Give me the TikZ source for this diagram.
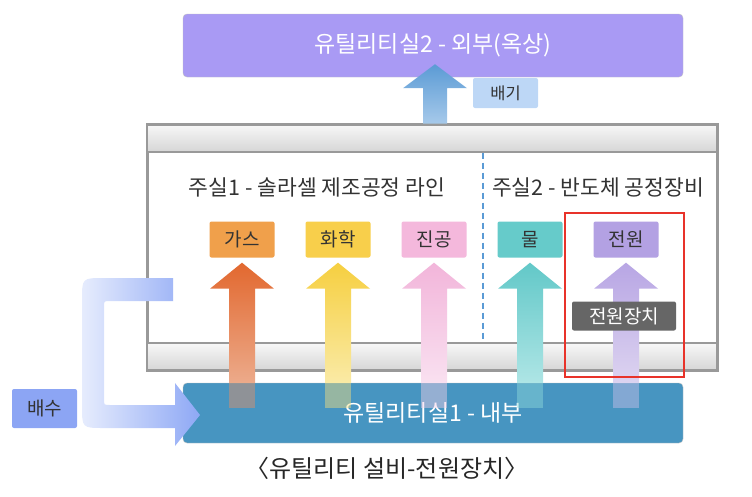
\documentclass[tikz,border=0pt]{standalone}
\usepackage{fontspec}
\setmainfont{Noto Sans CJK KR}
\usetikzlibrary{calc,positioning}
\definecolor{cUtilTwo}{HTML}{A99AF4}
\definecolor{cUtilOne}{HTML}{4795C1}
\definecolor{cExhTag}{HTML}{BDD7F6}
\definecolor{cExhTop}{HTML}{5B9BD5}
\definecolor{cExhBot}{HTML}{A6C9EA}
\definecolor{cDrainTag}{HTML}{8CA5F4}
\definecolor{cDrainL}{HTML}{E6ECFD}
\definecolor{cDrainR}{HTML}{8EA8F5}
\definecolor{cGas}{HTML}{F0A04B}
\definecolor{cGasTop}{HTML}{E2682F}
\definecolor{cGasBot}{HTML}{ECAA8A}
\definecolor{cChem}{HTML}{F8CF4B}
\definecolor{cChemTop}{HTML}{F6CF40}
\definecolor{cChemBot}{HTML}{FAEAA5}
\definecolor{cVac}{HTML}{F4B8DC}
\definecolor{cVacTop}{HTML}{F2B5DA}
\definecolor{cVacBot}{HTML}{F9E0F0}
\definecolor{cWater}{HTML}{66CBCA}
\definecolor{cWaterTop}{HTML}{62C8C8}
\definecolor{cWaterBot}{HTML}{AEE5E5}
\definecolor{cPow}{HTML}{B3A1E3}
\definecolor{cPowTop}{HTML}{B8A6E4}
\definecolor{cPowBot}{HTML}{DCD3F0}
\definecolor{cFrame}{HTML}{999999}
\definecolor{cDiv}{HTML}{5B9BD5}
\definecolor{cMark}{HTML}{E8332A}

\begin{document}
\begin{tikzpicture}[x=1pt, y=-1pt,
    util/.style={rectangle, rounded corners=4pt, draw=black!25, fill=#1, minimum width=500pt, inner sep=0pt, text=white, font=\fontsize{23}{25}\selectfont},
    tag/.style={rectangle, rounded corners=2pt, fill=#1, minimum width=65pt, minimum height=36pt, inner sep=0pt, text=black!80, font=\fontsize{19}{21}\selectfont},
    heading/.style={font=\fontsize{21.5}{23}\selectfont, text=black!80},
    bar/.style={rectangle, draw=cFrame, line width=2pt, top color=black!3, bottom color=black!16, minimum width=570pt, minimum height=27pt, inner sep=0pt},
    divider/.style={cDiv, line width=2.5pt, dash pattern=on 6pt off 4pt},
]
\useasboundingbox (0,0) rectangle (752,496);

\def\sep{96}

% main room frame
\node[rectangle, draw=cFrame, line width=3pt, fill=white, minimum width=570pt, minimum height=246pt, inner sep=0pt] (room) at (432,247) {};
\node[bar] (topbar) at (432,138) {};
\node[bar] (botbar) at (432,356.5) {};
\coordinate (div) at (483,0);
\draw[divider] (topbar.south -| div) -- (botbar.north -| div);

\node[heading] (line1) at (317,187) {주실1 - 솔라셀 제조공정 라인};
\node[heading] (line2) at (598,187) {주실2 - 반도체 공정장비};

% utilities
\node[tag=cGas] (gas) at (242,239.5) {가스};
\node[tag=cChem] (chem) at (242+\sep,239.5) {화학};
\node[tag=cVac] (vac) at (242+2*\sep,239.5) {진공};
\node[tag=cWater] (water) at (242+3*\sep,239.5) {물};
\node[tag=cPow] (pow) at (242+4*\sep,239.5) {전원};

\node[util=cUtilOne, minimum height=60pt] (util1) at (433,413) {유틸리티실1 - 내부};

\foreach \n/\ct/\cb in {gas/cGasTop/cGasBot, chem/cChemTop/cChemBot, vac/cVacTop/cVacBot, water/cWaterTop/cWaterBot, pow/cPowTop/cPowBot} {
  \shade[top color=\ct, bottom color=\cb]
    ($(\n.south)+(0,5)$) -- ($(\n.south)+(32,31)$) -- ($(\n.south)+(13,31)$)
    -- ($(\n.south |- util1.north)+(13,0)$) -- ($(\n.south |- util1.north)+(-13,0)$)
    -- ($(\n.south)+(-13,31)$) -- ($(\n.south)+(-32,31)$) -- cycle;
  \fill[\cb!60!\ct, opacity=0.45] ($(\n.south |- util1.north)+(-13,0)$) rectangle ($(\n.south |- util1.north)+(13,25)$);
}

\node[tag=black!60, minimum width=104pt, minimum height=29pt, text=white, font=\fontsize{19}{21}\selectfont] (psu) at (624,316) {전원장치};
\node[rectangle, draw=cMark, line width=2pt, minimum width=119pt, minimum height=164pt] (mark) at (624.5,295) {};

% exhaust to roof
\node[util=cUtilTwo, minimum height=63pt] (util2) at (433,45.5) {유틸리티실2 - 외부(옥상)};
\coordinate (ex) at (435,0);
\shade[top color=cExhTop, bottom color=cExhBot]
  ($(util2.south -| ex)+(0,-13)$) -- ($(util2.south -| ex)+(32,11)$) -- ($(util2.south -| ex)+(12,11)$)
  -- (topbar.north -| {$(ex)+(12,0)$}) -- (topbar.north -| {$(ex)+(-12,0)$})
  -- ($(util2.south -| ex)+(-12,11)$) -- ($(util2.south -| ex)+(-32,11)$) -- cycle;
\node[tag=cExhTag, minimum height=30pt, font=\fontsize{16.5}{18}\selectfont] (exh) at (505.5,93) {배기};

% drain
\shade[left color=cDrainL, right color=cDrainR]
  (173,278) -- (104,278) .. controls (82,278) .. (82,300) -- (82,406) .. controls (82,428) .. (104,428)
  -- (175,428) -- (175,446) -- (200,415) -- (175,383) -- (175,405) -- (110,405) .. controls (104,405) .. (104,399)
  -- (104,307) .. controls (104,301) .. (110,301) -- (173,301) -- cycle;
\node[tag=cDrainTag, minimum height=39pt] (drain) at (44.5,408.5) {배수};

\node[font=\fontsize{24}{26}\selectfont, text=black!85] (cap) at (387,468) {〈유틸리티 설비-전원장치〉};

\end{tikzpicture}
\end{document}
